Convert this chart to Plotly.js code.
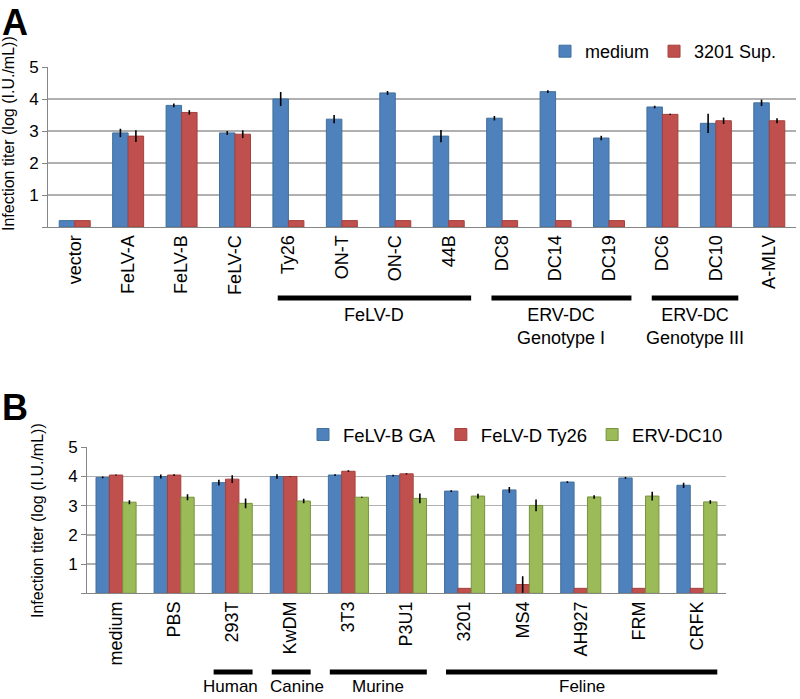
<!DOCTYPE html>
<html><head><meta charset="utf-8">
<script src="https://cdn.plot.ly/plotly-3.0.1.min.js"></script>
<style>html,body{margin:0;padding:0;background:#fff}</style>
</head><body><div id="chart" style="width:800px;height:699px"></div>
<script>
// ---- Panel A data ----
const catsA = ['vector','FeLV-A','FeLV-B','FeLV-C','Ty26','ON-T','ON-C','44B','DC8','DC14','DC19','DC6','DC10','A-MLV'];
const mediumA    = [0.2, 2.94, 3.80, 2.94, 4.00, 3.37, 4.19, 2.84, 3.40, 4.23, 2.78, 3.75, 3.24, 3.88];
const mediumErrA = [0,   0.13, 0.06, 0.06, 0.22, 0.13, 0.06, 0.19, 0.07, 0.04, 0.07, 0.04, 0.30, 0.10];
const supA       = [0.2, 2.84, 3.58, 2.90, 0.2,  0.2,  0.2,  0.2,  0.2,  0.2,  0.2,  3.52, 3.32, 3.32];
const supErrA    = [0,   0.18, 0.07, 0.12, 0,    0,    0,    0,    0,    0,    0,    0.02, 0.10, 0.08];
const seriesA = ['medium','3201 Sup.'];
const groupLabelsA = ['FeLV-D','ERV-DC<br>Genotype I','ERV-DC<br>Genotype III'];
const groupFirstA  = ['Ty26','DC8','DC6'];
const groupLastA   = ['44B','DC19','DC10'];

// ---- Panel B data ----
const catsB = ['medium','PBS','293T','KwDM','3T3','P3U1','3201','MS4','AH927','FRM','CRFK'];
const bgaB    = [3.97, 4.00, 3.79, 4.00, 4.05, 4.03, 3.50, 3.54, 3.81, 3.95, 3.70];
const bgaErrB = [0.03, 0.07, 0.10, 0.08, 0.03, 0.03, 0.03, 0.10, 0.03, 0.03, 0.09];
const tyB     = [4.05, 4.05, 3.91, 4.00, 4.18, 4.09, 0.17, 0.30, 0.17, 0.17, 0.17];
const tyErrB  = [0.02, 0.03, 0.13, 0.01, 0.03, 0.02, 0,    0.28, 0,    0,    0];
const dcB     = [3.12, 3.29, 3.08, 3.16, 3.29, 3.25, 3.33, 3.01, 3.30, 3.33, 3.13];
const dcErrB  = [0.07, 0.10, 0.17, 0.08, 0.02, 0.17, 0.08, 0.20, 0.06, 0.15, 0.06];
const seriesB = ['FeLV-B GA','FeLV-D Ty26','ERV-DC10'];
const groupLabelsB = ['Human','Canine','Murine','Feline'];
const groupFirstB  = ['293T','KwDM','3T3','3201'];
const groupLastB   = ['293T','KwDM','P3U1','CRFK'];

const yTickVals = [0,1,2,3,4,5];
const yTickText = ['','1','2','3','4','5'];
const yTitle = 'Infection titer (log (I.U./mL))';

// ---- styling ----
const FONT = 'Liberation Sans, Arial, Helvetica, sans-serif';
const BLUE = '#4F81BD', RED = '#C0504D', GREEN = '#9BBB59';
const BLUE_L = '#41719C', RED_L = '#A5403D', GREEN_L = '#77933C';
const H = 699, W = 800;
const py = p => 1 - p / H;

function errBar(arr){
  return {type:'data', array:arr, visible:true, color:'#000', thickness:1.6, width:0};
}
function barTrace(x, y, err, name, color, lineColor, w, off, xa, ya, lg){
  return {type:'bar', x:x, y:y, name:name, width:w, offset:off,
    marker:{color:color, line:{color:lineColor, width:1}},
    error_y: errBar(err), xaxis:xa, yaxis:ya, legend:lg, hoverinfo:'skip'};
}

const data = [
  barTrace(catsA, mediumA, mediumErrA, seriesA[0], BLUE, BLUE_L, 0.29, -0.29, 'x', 'y', 'legend'),
  barTrace(catsA, supA, supErrA, seriesA[1], RED, RED_L, 0.29, 0, 'x', 'y', 'legend'),
  barTrace(catsB, bgaB, bgaErrB, seriesB[0], BLUE, BLUE_L, 0.23, -0.345, 'x2', 'y2', 'legend2'),
  barTrace(catsB, tyB, tyErrB, seriesB[1], RED, RED_L, 0.23, -0.115, 'x2', 'y2', 'legend2'),
  barTrace(catsB, dcB, dcErrB, seriesB[2], GREEN, GREEN_L, 0.23, 0.115, 'x2', 'y2', 'legend2')
];

const AXC = '#868686', GRIDC = '#b0b0b0';
function xAxis(domain, anchor, n){
  return {domain:domain, anchor:anchor, type:'category', range:[-0.5, n-0.5],
    tickangle:-90, tickfont:{family:FONT, size:18, color:'#000'},
    showline:true, linecolor:AXC, linewidth:1, ticks:'', showgrid:false, zeroline:false, fixedrange:true};
}
function yAxis(domain, anchor){
  return {domain:domain, anchor:anchor, range:[0,5], tickvals:yTickVals, ticktext:yTickText,
    tickfont:{family:FONT, size:17, color:'#000'}, ticks:'outside', ticklen:5, tickcolor:AXC,
    showline:true, linecolor:AXC, linewidth:1, showgrid:true, gridcolor:GRIDC, gridwidth:1.3,
    zeroline:false, fixedrange:true};
}

const shapes = [], annotations = [];
function addGroups(cats, labels, firsts, lasts, xref, barY, textY, padL, padR, fsize, shifts){
  labels.forEach((lab, i) => {
    const a = cats.indexOf(firsts[i]) - padL, b = cats.indexOf(lasts[i]) + padR;
    shapes.push({type:'line', xref:xref, yref:'paper', x0:a, x1:b, y0:py(barY), y1:py(barY),
      line:{color:'#000', width:5}});
    annotations.push({xref:xref, yref:'paper', x:(a+b)/2, y:py(textY), yanchor:'top', xanchor:'center',
      xshift:(shifts && shifts[lab]) || 0,
      text:lab, showarrow:false, font:{family:FONT, size:fsize, color:'#000'}});
  });
}
addGroups(catsA, groupLabelsA, groupFirstA, groupLastA, 'x', 298, 303, 0.2, 0.42, 18, null);
addGroups(catsB, groupLabelsB, groupFirstB, groupLastB, 'x2', 672, 675, 0.32, 0.35, 17,
  {'Human':-3, 'Canine':6});

annotations.push(
  {xref:'paper', yref:'paper', x:0, y:py(0), xanchor:'left', yanchor:'top', text:'<b>A</b>',
   showarrow:false, font:{family:FONT, size:36, color:'#000'}},
  {xref:'paper', yref:'paper', x:0, y:py(385), xanchor:'left', yanchor:'top', text:'<b>B</b>',
   showarrow:false, font:{family:FONT, size:36, color:'#000'}},
  {xref:'paper', yref:'paper', x:9/W, y:py(134), xanchor:'center', yanchor:'middle', textangle:-90,
   text:yTitle, showarrow:false, font:{family:FONT, size:16, color:'#000'}},
  {xref:'paper', yref:'paper', x:37/W, y:py(521), xanchor:'center', yanchor:'middle', textangle:-90,
   text:yTitle, showarrow:false, font:{family:FONT, size:16, color:'#000'}}
);

const layout = {
  width:W, height:H, margin:{l:0, r:0, t:0, b:0}, paper_bgcolor:'#fff', plot_bgcolor:'#fff',
  font:{family:FONT, color:'#000'},
  barmode:'overlay',
  xaxis: xAxis([48/W, 796/W], 'y', catsA.length),
  yaxis: yAxis([py(227), py(67)], 'x'),
  xaxis2: xAxis([87/W, 726/W], 'y2', catsB.length),
  yaxis2: yAxis([py(593.3), py(447.3)], 'x2'),
  legend:{orientation:'h', x:545/W, y:py(51.5), xanchor:'left', yanchor:'middle',
    font:{family:FONT, size:18, color:'#000'}, bgcolor:'rgba(0,0,0,0)', traceorder:'normal'},
  legend2:{orientation:'h', x:303/W, y:py(435), xanchor:'left', yanchor:'middle',
    font:{family:FONT, size:18.5, color:'#000'}, bgcolor:'rgba(0,0,0,0)', traceorder:'normal'},
  shapes:shapes, annotations:annotations, showlegend:true
};

Plotly.newPlot('chart', data, layout, {staticPlot:true, displayModeBar:false});
</script>
</body></html>
